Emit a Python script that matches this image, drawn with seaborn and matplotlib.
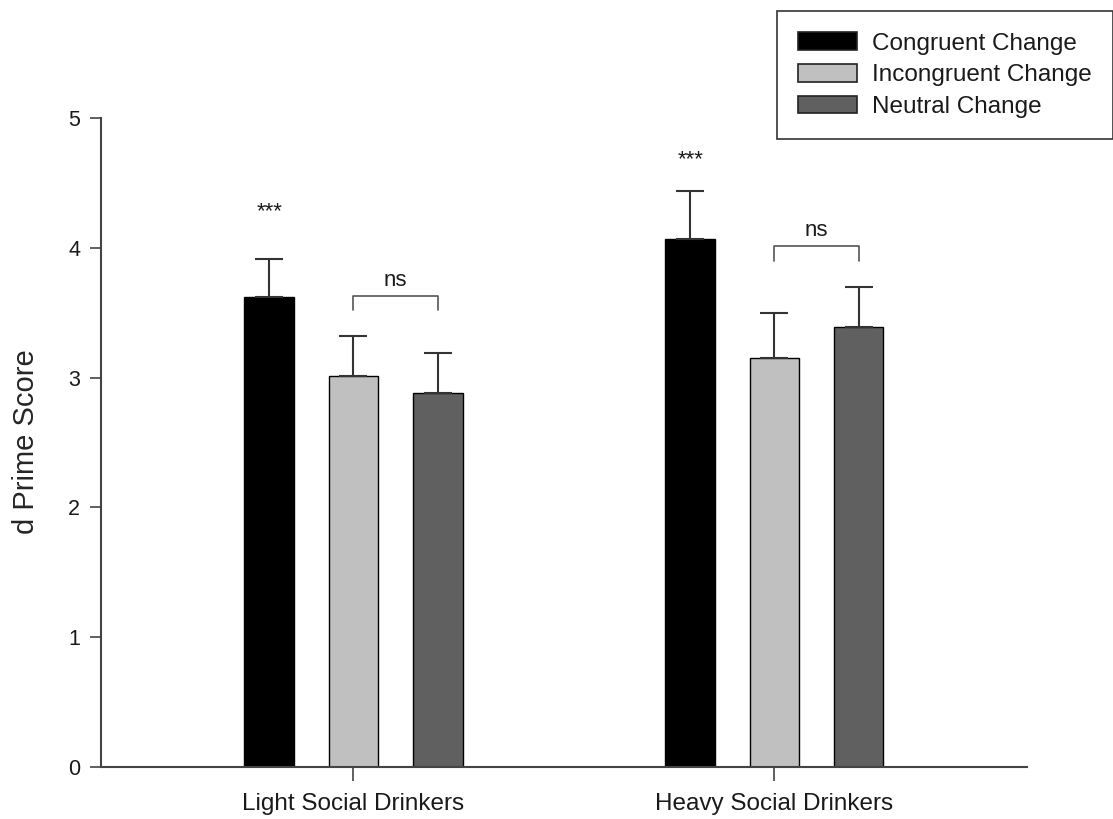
"""
d Prime scores by drinker group and change type
"""
import pandas as pd
import matplotlib
matplotlib.use("Agg")
import matplotlib.pyplot as plt
import seaborn as sns

# Data
groups = ["Light Social Drinkers", "Heavy Social Drinkers"]
group_labels = ["Light Social Drinkers", "Heavy Social Drinkers"]
conditions = ["Congruent Change", "Incongruent Change", "Neutral Change"]
means_light = [3.62, 3.01, 2.88]
means_heavy = [4.07, 3.15, 3.39]
sem_light = [0.29, 0.31, 0.31]
sem_heavy = [0.37, 0.35, 0.31]
colors = ["#000000", "#c0c0c0", "#606060"]

# significance marks
star_y = [4.28, 4.68]
ns_y = [3.63, 4.01]

df = pd.DataFrame({
    "group": [groups[0]] * 3 + [groups[1]] * 3,
    "condition": conditions * 2,
    "mean": means_light + means_heavy,
    "sem": sem_light + sem_heavy,
})

sns.set_style("white")
plt.rcParams["font.family"] = ["Liberation Sans", "DejaVu Sans"]
plt.rcParams["text.color"] = "#1a1a1a"
plt.rcParams["xtick.color"] = "#1a1a1a"
plt.rcParams["ytick.color"] = "#1a1a1a"

fig = plt.figure(figsize=(11.13, 8.19), dpi=100)
ax = fig.add_axes([0.0907, 0.0635, 0.832, 0.7925])

sns.barplot(
    data=df, x="group", y="mean", hue="condition",
    order=groups, hue_order=conditions, palette=colors,
    width=0.6, gap=0.41, edgecolor="black", linewidth=1.0,
    errorbar=None, ax=ax,
)
bar_sets = list(ax.containers)

# error bars (upper only) from the bar patches
for patches, cond in zip(bar_sets, conditions):
    sub = df[df["condition"] == cond].set_index("group").loc[groups]
    xs = [p.get_x() + p.get_width() / 2 for p in patches]
    ax.errorbar(xs, sub["mean"], yerr=[[0] * len(xs), sub["sem"]],
                fmt="none", ecolor="#333333", elinewidth=1.5,
                capsize=10, capthick=1.5, zorder=1)

# significance annotations
for gi in range(len(groups)):
    bars = [c.patches[gi] for c in bar_sets]
    cx = [b.get_x() + b.get_width() / 2 for b in bars]
    ax.text(cx[0], star_y[gi], "***", ha="center", va="center", fontsize=16)
    y = ns_y[gi]
    ax.plot([cx[1], cx[1], cx[2], cx[2]], [y - 0.11, y, y, y - 0.11],
            color="#555555", lw=1.2)
    ax.text((cx[1] + cx[2]) / 2, y + 0.04, "ns", ha="center", va="bottom",
            fontsize=16)

ax.set_xlim(-0.6, 1.6)
ax.set_ylim(0, 5)
ax.set_yticks(range(6))
ax.set_xticks(range(len(groups)))
ax.set_xticklabels(group_labels, fontsize=17.5)
ax.tick_params(axis="y", labelsize=15.5, length=8, width=1.2, color="#444444",
               direction="out", left=True, pad=7)
ax.tick_params(axis="x", length=10, width=1.2, color="#444444",
               direction="out", bottom=True, pad=9)
ax.set_xlabel("")
ax.set_ylabel("d Prime Score", fontsize=21)
ax.yaxis.set_label_coords(-0.066, 0.502)
sns.despine(ax=ax)
for s in ["left", "bottom"]:
    ax.spines[s].set_color("#444444")
    ax.spines[s].set_linewidth(1.5)

leg = ax.legend(
    loc="upper left", bbox_to_anchor=(777 / 1113, 1 - 11 / 819),
    bbox_transform=fig.transFigure, fontsize=17.5, frameon=True,
    fancybox=False, edgecolor="black", handlelength=2.4, handleheight=0.75,
    handletextpad=0.62, labelspacing=0.38, borderpad=0.88, title=None,
    borderaxespad=0,
)
leg.get_frame().set_linewidth(1.2)
for h in leg.legend_handles:
    h.set_edgecolor("#222222")
    h.set_linewidth(1.2)

plt.savefig("out.png", dpi=100)
plt.close("all")
